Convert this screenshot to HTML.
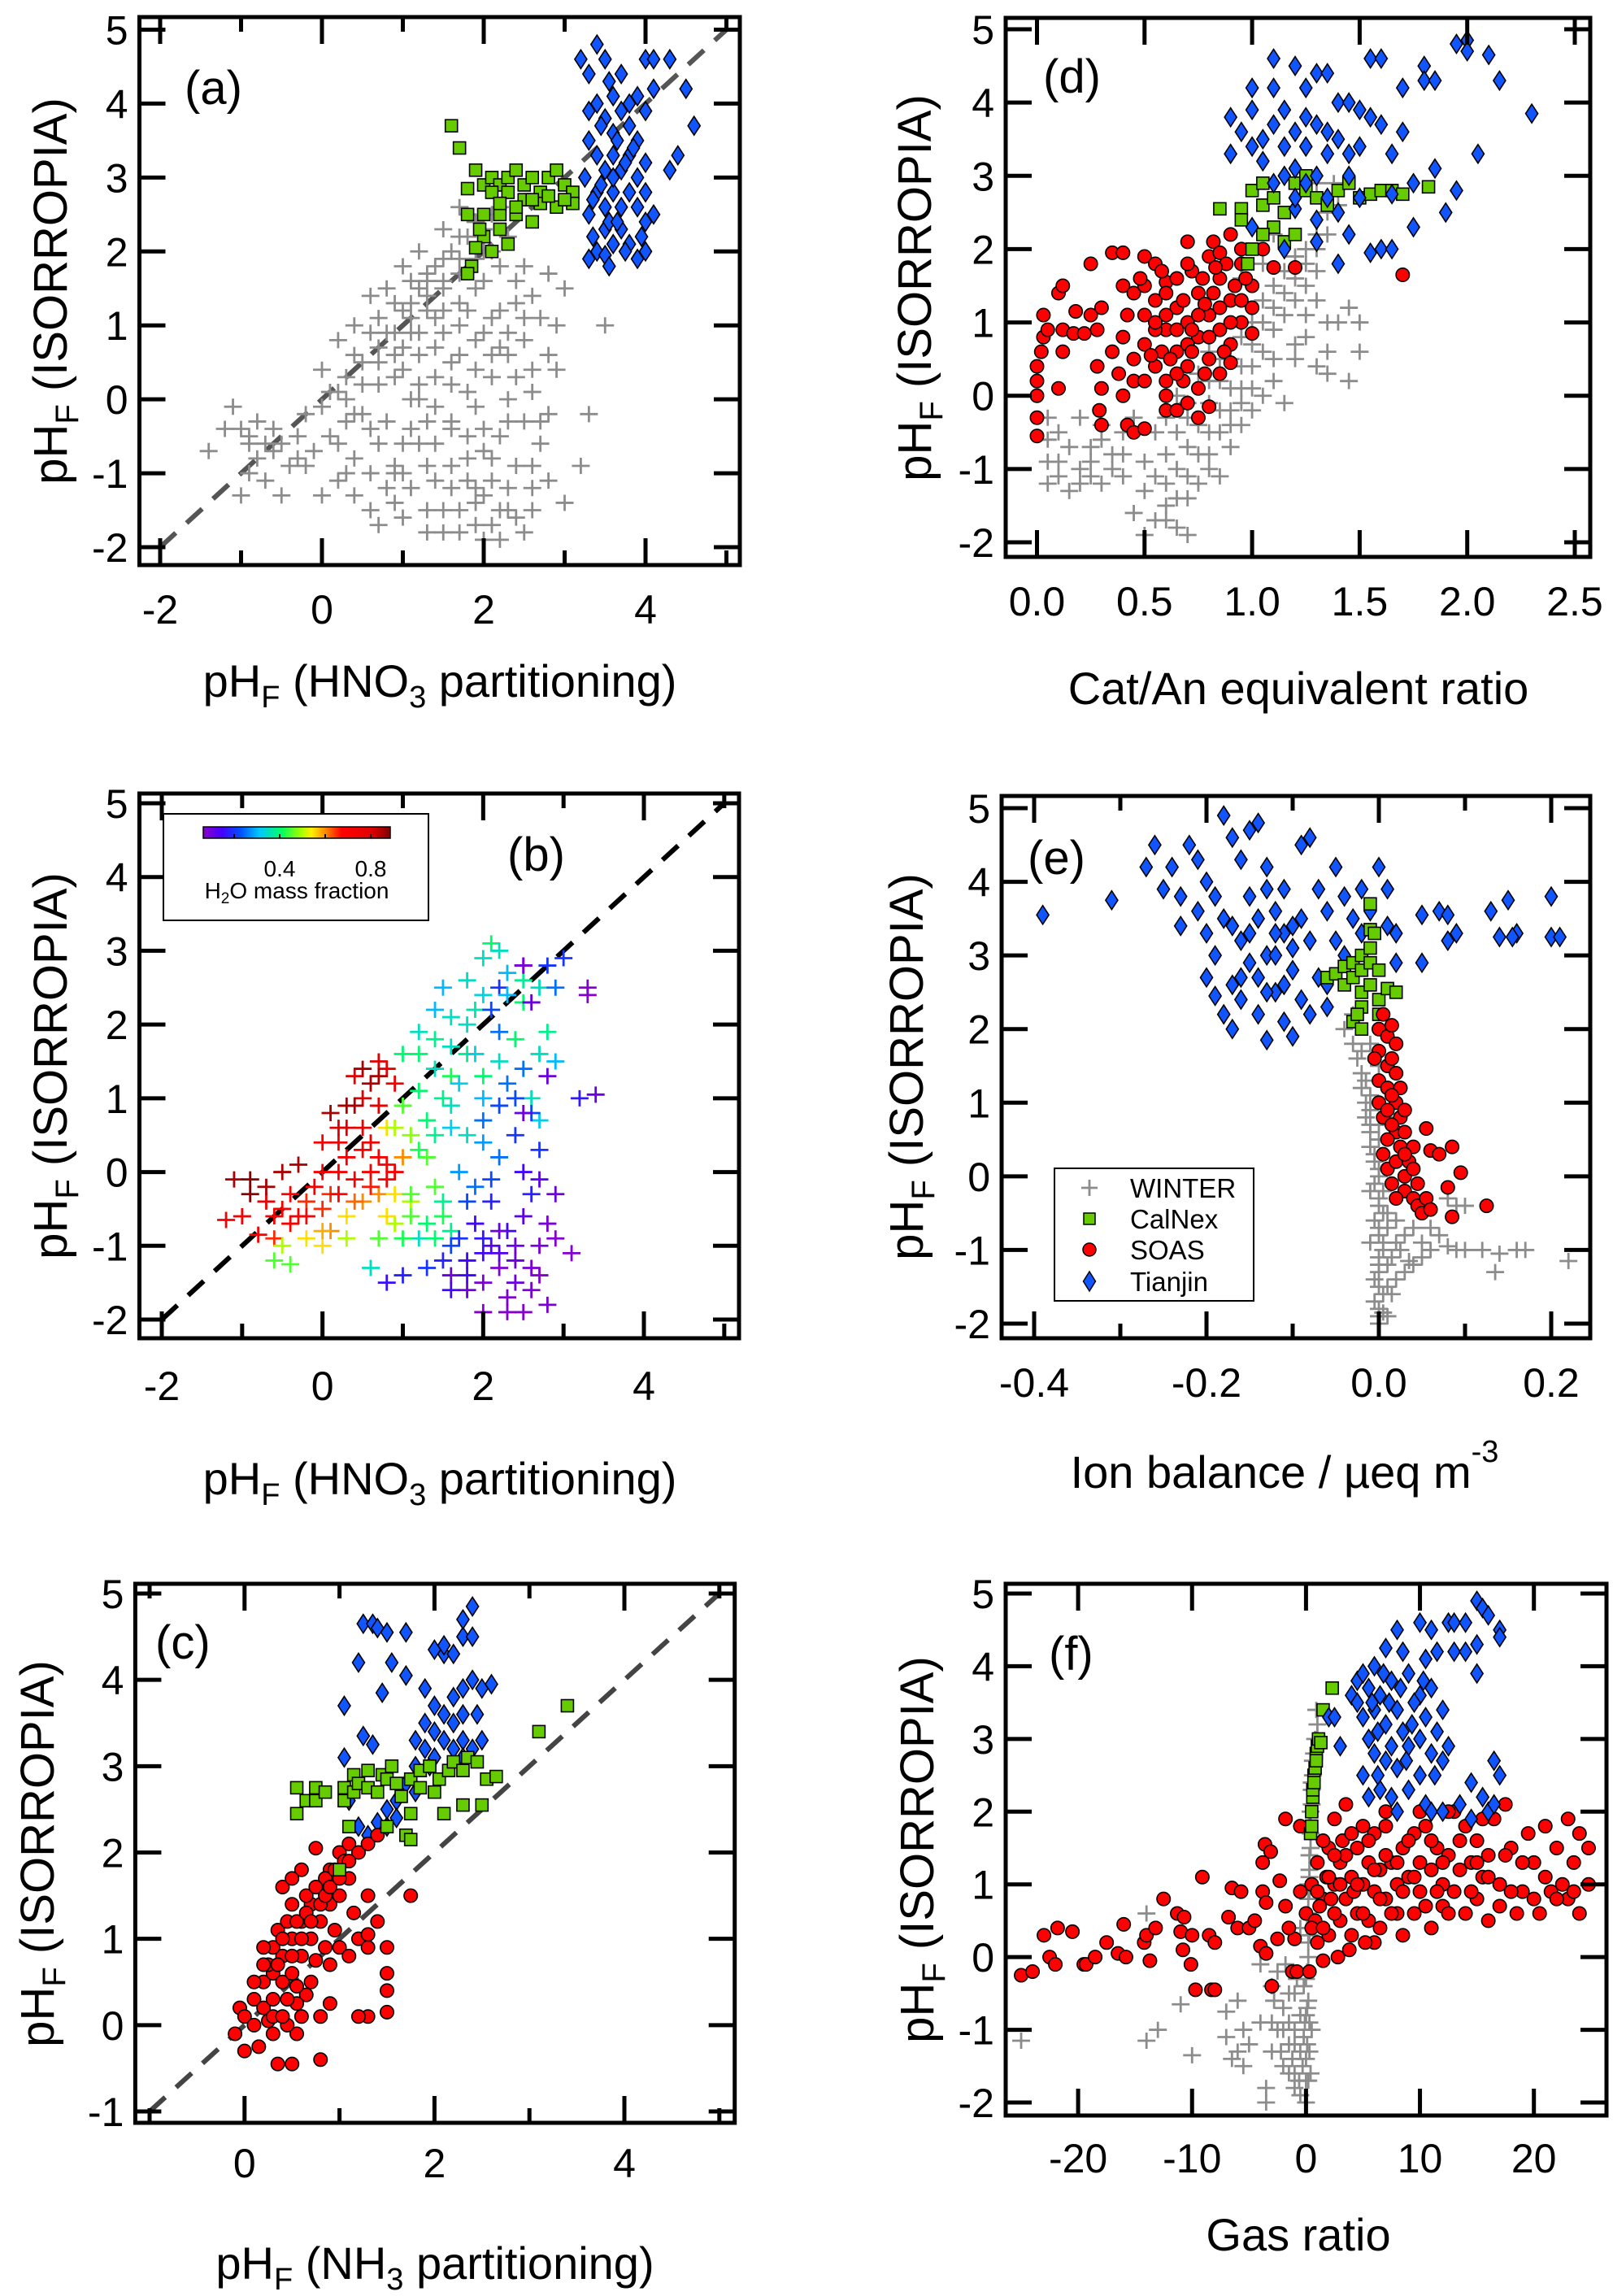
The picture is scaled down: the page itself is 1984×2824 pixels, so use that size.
<!DOCTYPE html>
<html><head><meta charset="utf-8">
<style>
html,body{margin:0;padding:0;background:#fff;}
svg{display:block;font-family:"Liberation Sans",Arial,sans-serif;}
</style></head>
<body>
<svg id="fig" width="1984" height="2824" viewBox="0 0 1984 2824" xmlns="http://www.w3.org/2000/svg">
<defs>
<linearGradient id="cbar" x1="0" x2="1" y1="0" y2="0">
<stop offset="0" stop-color="#8800cc"/><stop offset="0.1" stop-color="#4400ff"/><stop offset="0.2" stop-color="#0050ff"/>
<stop offset="0.3" stop-color="#00c8ff"/><stop offset="0.42" stop-color="#00ff60"/><stop offset="0.52" stop-color="#a0ff00"/>
<stop offset="0.58" stop-color="#ffee00"/><stop offset="0.66" stop-color="#ff8000"/><stop offset="0.74" stop-color="#ff0000"/>
<stop offset="0.9" stop-color="#e00000"/><stop offset="1" stop-color="#800000"/>
</linearGradient>
</defs>
<rect width="1984" height="2824" fill="#fff"/>
<g id="marks"></g>
<g id="static" font-size="56" fill="#000">
<text x="541" y="857" text-anchor="middle">pH<tspan font-size="38" dy="13">F</tspan><tspan dy="-13"> (HNO</tspan><tspan font-size="38" dy="13">3</tspan><tspan dy="-13"> partitioning)</tspan></text>
<text x="541" y="1838" text-anchor="middle">pH<tspan font-size="38" dy="13">F</tspan><tspan dy="-13"> (HNO</tspan><tspan font-size="38" dy="13">3</tspan><tspan dy="-13"> partitioning)</tspan></text>
<text x="535" y="2803" text-anchor="middle">pH<tspan font-size="38" dy="13">F</tspan><tspan dy="-13"> (NH</tspan><tspan font-size="38" dy="13">3</tspan><tspan dy="-13"> partitioning)</tspan></text>
<text x="1597" y="866" text-anchor="middle">Cat/An equivalent ratio</text>
<text x="1580" y="1830" text-anchor="middle">Ion balance / µeq m<tspan font-size="38" dy="-32">-3</tspan></text>
<text x="1597" y="2768" text-anchor="middle">Gas ratio</text>

<g font-size="58">
<text transform="translate(82,358) rotate(-90)" text-anchor="middle">pH<tspan font-size="40" dy="14">F</tspan><tspan dy="-14"> (ISORROPIA)</tspan></text>
<text transform="translate(82,1311) rotate(-90)" text-anchor="middle">pH<tspan font-size="40" dy="14">F</tspan><tspan dy="-14"> (ISORROPIA)</tspan></text>
<text transform="translate(66,2280) rotate(-90)" text-anchor="middle">pH<tspan font-size="40" dy="14">F</tspan><tspan dy="-14"> (ISORROPIA)</tspan></text>
<text transform="translate(1145,354) rotate(-90)" text-anchor="middle">pH<tspan font-size="40" dy="14">F</tspan><tspan dy="-14"> (ISORROPIA)</tspan></text>
<text transform="translate(1135,1312) rotate(-90)" text-anchor="middle">pH<tspan font-size="40" dy="14">F</tspan><tspan dy="-14"> (ISORROPIA)</tspan></text>
<text transform="translate(1148,2275) rotate(-90)" text-anchor="middle">pH<tspan font-size="40" dy="14">F</tspan><tspan dy="-14"> (ISORROPIA)</tspan></text>
</g>

<g font-size="58">
<text x="227" y="128">(a)</text>
<text x="624" y="1071">(b)</text>
<text x="191" y="2040">(c)</text>
<text x="1283" y="114">(d)</text>
<text x="1264" y="1075">(e)</text>
<text x="1290" y="2054">(f)</text>
</g>

<g>
<rect x="201" y="1001" width="326" height="131" fill="#fff" stroke="#000" stroke-width="2"/>
<rect x="250" y="1017" width="230" height="14" fill="url(#cbar)" stroke="#000" stroke-width="1.5"/>
<path d="M288 1031v-5M344 1031v-5M400 1031v-5M456 1031v-5" stroke="#000" stroke-width="2"/>
<text x="344" y="1078" font-size="28" text-anchor="middle">0.4</text>
<text x="456" y="1078" font-size="28" text-anchor="middle">0.8</text>
<text x="365" y="1105" font-size="28" text-anchor="middle">H<tspan font-size="19" dy="6">2</tspan><tspan dy="-6">O mass fraction</tspan></text>
</g>

<g font-size="33">
<rect x="1297" y="1437" width="245" height="163" fill="#fff" stroke="#000" stroke-width="2"/>
<g><path d="M1330 1461h20M1340 1451v20" stroke="#8c8c8c" stroke-width="2.8"/><text x="1390" y="1473">WINTER</text></g>
<g><rect x="1333" y="1492" width="14" height="14" fill="#66cc00" stroke="#000" stroke-width="1.5"/><text x="1390" y="1511">CalNex</text></g>
<g><circle cx="1340" cy="1537" r="8" fill="#ff0000" stroke="#000" stroke-width="1.5"/><text x="1390" y="1549">SOAS</text></g>
<g><path d="M1340 1564l7.5 12-7.5 12-7.5-12z" fill="#1155ff" stroke="#000" stroke-width="1.5"/><text x="1390" y="1588">Tianjin</text></g>
</g>
</g>
</svg>
<script>
// ---------- data ----------
const aWinter=[[-1.1,-0.1],[-1.0,-0.4],[-0.8,-0.3],[-0.6,-0.4],[-0.5,-0.6],[-0.3,-0.5],[-0.2,-0.2],[0,-0.1],[0.1,0.1],[-0.4,-0.9],[-1.4,-0.7],[-0.8,-0.8],[-1.0,-1.3],[-0.5,-1.3],[-0.2,-0.9],[0.2,-0.6],[0.4,-0.8],[0.2,-1.1],[0.6,-1.0],[0.9,-1.4],[0.6,-1.5],[1.0,-1.6],[0.0,0.4],[0.2,0.8],[0.4,1.0],[0.5,0.5],[0.3,0.3],[0.6,1.4],[0.8,1.5],[1.0,1.8],[1.2,2.0],[1.5,2.3],[1.8,2.5],[1.0,1.2],[0.8,0.9],[1.2,1.5],[1.4,1.8],[1.6,2.0],[1.8,2.2],[2.0,2.3],[2.2,2.6],[0.7,0.2],[0.9,0.6],[1.1,0.9],[1.3,1.2],[1.5,1.5],[1.7,1.7],[1.9,1.9],[2.1,2.0],[2.3,2.2],[2.5,1.8],[2.6,1.4],[2.8,1.7],[3.0,1.5],[2.7,1.1],[2.4,1.3],[2.5,0.8],[2.6,0.4],[2.3,0.0],[2.5,-0.3],[2.7,-0.6],[2.4,-0.9],[2.6,-1.2],[2.3,-1.5],[2.5,-1.8],[2.1,-1.7],[1.9,-1.4],[1.6,-1.2],[1.3,-0.9],[1.0,-0.6],[0.8,-0.3],[1.1,0.0],[1.4,0.3],[1.7,0.6],[2.0,0.9],[2.2,1.2],[2.0,1.6],[1.8,1.2],[1.5,0.9],[1.2,0.6],[0.9,0.3],[0.6,-0.4],[1.6,-0.4],[1.9,-0.1],[2.1,0.3],[1.3,-0.3],[1.8,-0.8],[2.1,-1.1],[1.5,-1.5],[3.5,1.0],[3.3,-0.2],[3.2,-0.9],[3.0,-1.4],[2.9,0.4],[2.8,-0.2],[2.0,-1.9],[1.2,0.0],[0.3,-0.3],[1.7,2.6],[1.4,1.1],[1.6,0.2],[2.2,-0.5],[1.1,1.6],[0.7,1.1],[1.3,1.7],[1.7,1.3],[2.2,0.7],[1.9,0.4],[1.4,-0.6],[2.0,-0.4],[2.3,-1.2],[1.7,-1.8],[0.9,-1.0],[0.4,-0.2],[-0.7,-0.6],[-0.9,-0.5]];
const aWinterCore=[[0.3,0.0],[0.5,0.2],[0.7,0.5],[0.9,0.9],[1.1,1.3],[1.3,1.6],[1.5,1.9],[1.7,2.2],[1.9,2.4],[2.1,2.5],[0.5,-0.2],[0.7,-0.6],[0.9,-0.9],[1.1,-1.2],[1.3,-1.5],[1.5,-1.8],[1.7,-1.5],[1.9,-1.2],[2.1,-0.8],[2.3,-0.3],[2.4,0.3],[2.3,0.6],[2.1,1.1],[1.9,1.5],[1.7,1.9],[1.5,1.6],[1.3,1.4],[1.1,1.1],[0.9,1.3],[0.7,0.7],[1.0,0.4],[1.2,0.2],[1.4,-0.1],[1.6,-0.3],[1.8,-0.5],[2.0,-0.7],[1.8,0.1],[1.6,0.5],[1.4,0.7],[1.2,0.9],[1.0,0.7],[1.5,1.2],[1.7,1.0],[1.9,0.8],[2.1,0.6],[2.3,0.9],[2.5,1.1],[2.4,1.6],[2.2,1.8],[2.0,2.0],[1.2,-0.6],[1.0,-1.0],[0.8,-1.2],[1.4,-1.1],[1.6,-0.9],[1.8,-1.1],[2.0,-1.3],[2.2,-1.5],[2.4,-1.6],[2.6,-1.5],[2.2,-1.9],[1.9,-1.7],[2.6,-0.9],[2.8,-1.1],[2.7,-0.3],[2.6,0.1],[2.8,0.6],[2.9,1.0],[0.1,-0.5],[-0.1,-0.7],[-0.3,-0.8],[-0.6,-0.7],[-0.9,-0.6],[-1.2,-0.4],[-0.9,-1.0],[-0.7,-1.1],[0.4,-1.3],[0.3,-1.0],[0.0,-1.3],[0.7,-1.7],[1.3,-1.8],[1.1,-0.4],[0.6,0.9],[0.4,0.6],[0.2,0.1]];
const aCalnex=[[1.6,3.7],[1.7,3.4],[1.9,3.1],[2.0,2.9],[2.1,3.0],[2.2,2.9],[2.3,3.0],[2.4,3.1],[2.5,2.9],[2.6,3.0],[2.7,2.8],[2.8,3.0],[2.9,3.1],[3.0,2.9],[3.1,2.8],[3.1,2.65],[2.9,2.6],[2.7,2.65],[2.5,2.7],[2.3,2.8],[2.1,2.8],[1.8,2.85],[1.8,2.5],[2.0,2.5],[2.2,2.5],[2.4,2.5],[2.6,2.4],[2.2,2.3],[2.0,2.2],[2.1,2.0],[1.9,2.05],[2.3,2.1],[1.85,1.8],[1.8,1.7],[2.4,2.6],[2.6,2.7],[2.8,2.75],[3.0,2.7],[2.2,2.65],[1.95,2.3]];
const aTianjin=[[3.2,4.6],[3.3,4.4],[3.4,4.8],[3.5,4.6],[3.55,4.3],[3.7,4.4],[3.6,4.1],[3.4,4.0],[3.3,3.9],[3.5,3.8],[3.6,3.6],[3.7,3.9],[3.8,3.7],[3.9,3.5],[4.0,3.9],[4.1,4.2],[3.9,4.1],[4.0,4.6],[4.1,4.6],[4.3,4.6],[4.5,4.2],[4.6,3.7],[4.4,3.3],[4.3,3.1],[3.3,3.5],[3.4,3.3],[3.5,3.1],[3.6,3.3],[3.7,3.1],[3.8,3.3],[3.9,3.0],[4.0,3.2],[4.0,2.8],[3.9,2.6],[4.0,2.4],[4.1,2.5],[3.8,2.8],[3.7,2.6],[3.6,2.8],[3.5,2.6],[3.4,2.8],[3.3,2.5],[3.35,2.2],[3.5,2.3],[3.6,2.1],[3.7,2.3],[3.8,2.1],[3.4,2.0],[3.3,1.9],[3.5,1.95],[3.55,1.8],[3.75,2.0],[3.9,1.9],[4.0,2.0],[3.45,2.9],[3.65,3.5],[3.85,3.4],[3.25,3.0],[3.45,3.7],[3.75,3.2],[3.55,2.4],[3.95,2.2],[3.35,2.7],[3.65,2.4],[3.8,4.0],[3.6,3.0]];

const bWinter=[[-1.1,-0.1,.85],[-0.9,-0.3,.9],[-0.7,-0.4,.75],[-0.5,-0.5,.7],[-0.4,-0.3,.7],[-0.3,-0.6,.7],[-0.2,-0.4,.65],[-0.1,-0.2,.7],[0.0,0.0,.7],[0.1,-0.3,.65],[0.2,0.0,.7],[-1.2,-0.65,.7],[-1.0,-0.6,.7],[-0.8,-0.85,.68],[-0.6,-0.9,.65],[-0.5,-1.0,.5],[-0.6,-1.2,.45],[-0.4,-1.25,.45],[-0.2,-0.9,.55],[0.0,-1.0,.55],[0.1,-0.8,.6],[0.3,-0.6,.55],[0.5,-0.4,.6],[0.4,-0.1,.7],[0.6,0.0,.7],[0.7,0.2,.7],[0.8,0.1,.68],[0.9,0.0,.7],[0.7,-0.3,.6],[0.9,-0.3,.55],[0.2,0.4,.72],[0.3,0.6,.8],[0.0,0.4,.7],[0.1,0.8,.85],[0.3,0.9,.85],[0.5,1.0,.8],[0.4,1.3,.8],[0.6,1.2,.85],[0.7,1.5,.8],[0.8,1.4,.75],[0.5,0.3,.72],[0.8,0.6,.55],[1.0,0.2,.6],[1.1,-0.4,.5],[-0.3,0.1,.85],[-0.5,0.0,.85],
[1.0,1.6,.4],[1.2,1.9,.35],[1.4,2.2,.3],[1.6,2.1,.35],[1.8,2.6,.35],[2.0,2.9,.35],[2.1,3.1,.4],[2.2,3.0,.35],[2.3,2.7,.3],[2.5,2.6,.38],[2.7,2.5,.35],[2.5,2.3,.4],[2.8,1.9,.38],[2.7,1.6,.35],[2.9,1.5,.3],[2.4,1.8,.4],[2.2,1.5,.35],[2.0,1.3,.4],[1.8,1.6,.38],[1.6,1.3,.42],[1.4,1.4,.35],[1.2,1.1,.4],[1.0,0.9,.45],[1.3,0.7,.4],[1.6,0.9,.35],[1.8,0.5,.35],[2.0,1.0,.3],[1.1,0.5,.48],[1.3,0.2,.45],[0.9,0.6,.5],[1.3,-0.7,.4],[1.5,-0.6,.42],[1.6,-0.8,.38],[1.2,-0.9,.35],[0.9,-0.7,.5],[0.6,-1.3,.35],[0.7,-0.9,.45],[1.1,-0.3,.45],[1.4,-0.2,.45],[2.7,0.7,.32],[2.6,1.0,.35],[1.5,2.5,.3],[1.9,2.2,.36],
[2.2,2.5,.2],[2.5,2.8,.15],[2.8,2.8,.2],[3.0,2.9,.2],[2.9,2.5,.25],[2.1,2.2,.22],[2.2,1.9,.25],[2.3,1.2,.25],[2.5,1.4,.25],[2.6,0.8,.22],[2.4,0.5,.2],[2.2,0.2,.25],[2.0,0.4,.28],[1.9,-0.2,.25],[1.7,0.0,.28],[2.1,-0.4,.18],[1.9,-0.7,.15],[1.7,-0.9,.2],[1.5,-1.2,.18],[1.3,-1.3,.2],[1.0,-1.4,.18],[0.8,-1.5,.16],[1.6,-1.0,.22],[2.0,-1.1,.15],[1.8,-1.4,.15],[2.5,0.0,.15],[2.7,0.3,.2],[3.2,1.0,.17],[2.6,-0.3,.18],[2.3,-0.8,.15],
[2.0,-1.9,.07],[2.3,-1.7,.08],[2.5,-1.9,.07],[2.8,-1.8,.08],[2.4,-1.5,.1],[2.6,-1.3,.08],[2.2,-1.3,.07],[2.0,-1.5,.08],[1.8,-1.6,.1],[2.7,-1.0,.08],[2.9,-0.9,.07],[3.1,-1.1,.07],[2.8,-0.7,.08],[2.4,-1.0,.1],[2.2,-0.8,.1],[2.9,-0.3,.1],[2.7,-0.1,.12],[2.5,0.8,.1],[2.8,1.3,.1],[3.3,2.5,.07],[3.3,2.4,.07],[2.5,2.8,.08],[2.6,2.3,.1],[3.4,1.05,.1],[1.6,-1.4,.1],[2.1,-1.0,.12]];
const bWinterCore=[[-0.9,-0.1,.9],[-0.7,-0.2,.85],[-0.6,-0.6,.7],[-0.4,-0.7,.7],[-0.2,-0.6,.68],[0.0,-0.5,.65],[0.2,-0.3,.68],[0.4,-0.4,.62],[0.6,-0.2,.66],[0.8,-0.1,.7],[0.5,0.6,.75],[0.6,0.4,.72],[0.7,0.9,.78],[0.4,0.9,.85],[0.2,0.6,.8],[0.9,1.2,.72],[0.7,1.3,.85],[0.5,1.4,.85],[0.3,0.2,.72],[0.8,-0.6,.55],[0.3,-0.9,.5],[0.0,-0.8,.58],
[1.2,1.6,.4],[1.4,1.8,.38],[1.6,1.7,.35],[1.8,2.0,.35],[2.0,2.4,.33],[2.3,2.4,.3],[1.5,1.0,.38],[1.7,1.2,.32],[1.9,1.6,.33],[1.2,0.3,.42],[1.4,0.5,.38],[1.6,0.6,.32],[1.1,-0.6,.45],[1.4,-0.9,.4],[1.0,-0.9,.42],[1.5,-0.4,.38],
[2.0,0.7,.25],[2.2,0.9,.22],[2.4,1.0,.22],[2.1,-0.1,.22],[1.8,-0.4,.22],[2.0,-0.9,.17],[1.8,-1.2,.15],[1.6,-1.6,.15],[2.2,-1.1,.13],[2.4,-1.2,.1],[2.6,-1.6,.08],[2.3,-1.9,.07],[2.7,-1.4,.07],[2.5,-0.6,.12]];

const cSoas=[[-0.1,-0.1],[-0.05,0.2],[0.0,0.1],[0.1,0.3],[0.1,0.0],[0.2,0.5],[0.2,0.2],[0.3,0.6],[0.3,0.3],[0.4,0.8],[0.4,0.5],[0.5,1.0],[0.5,0.6],[0.6,1.2],[0.6,0.8],[0.7,1.4],[0.7,1.0],[0.8,1.6],[0.8,1.2],[0.9,1.8],[0.9,1.4],[1.0,2.0],[1.0,1.5],[1.1,2.1],[1.1,1.7],[1.2,2.0],[1.3,2.1],[1.4,2.2],[0.4,1.6],[0.5,1.4],[0.6,1.8],[0.75,2.05],[0.3,0.9],[0.2,0.9],[0.0,-0.3],[0.15,-0.25],[0.35,-0.45],[0.5,-0.45],[0.55,-0.1],[0.8,-0.4],[0.45,0.0],[0.6,0.1],[0.8,0.1],[0.9,0.25],[0.7,0.5],[0.9,0.7],[1.0,0.9],[1.1,0.8],[1.2,1.0],[1.3,0.9],[1.3,1.5],[1.4,1.2],[1.5,0.9],[1.5,0.6],[1.5,0.4],[1.5,0.15],[1.3,0.1],[1.2,0.1],[1.75,1.5],[1.3,1.05],[0.25,0.05],[0.65,0.35],[0.85,0.9],[0.35,1.1],[0.55,0.25],[1.15,1.3],[0.95,1.1],[0.45,1.2],[0.65,1.5],[0.85,1.7],[0.25,0.7],[0.55,0.45],[0.75,0.75],
[0.1,0.5],[0.2,0.7],[0.3,0.1],[0.35,0.7],[0.4,1.0],[0.45,0.3],[0.5,0.8],[0.55,1.2],[0.6,1.0],[0.65,1.3],[0.7,1.2],[0.75,1.6],[0.8,1.4],[0.85,1.5],[0.9,1.6],[0.95,1.8],[1.0,1.7],[1.05,1.9],[1.1,1.9],[0.5,1.7],[0.4,0.1],[0.3,-0.1]];
const cCalnex=[[0.55,2.75],[0.55,2.45],[0.65,2.6],[0.75,2.75],[0.75,2.6],[0.85,2.7],[1.05,2.75],[1.05,2.6],[1.15,2.9],[1.15,2.7],[1.2,2.8],[1.3,2.75],[1.4,2.7],[1.45,2.9],[1.5,2.85],[1.55,3.0],[1.6,2.8],[1.65,2.65],[1.75,2.85],[1.85,2.95],[1.95,3.0],[2.05,2.85],[2.0,2.7],[2.15,2.95],[2.2,3.05],[2.3,2.95],[2.35,3.1],[2.45,3.05],[2.55,2.85],[2.65,2.88],[2.1,2.45],[2.3,2.55],[2.5,2.55],[1.75,2.45],[1.5,2.3],[1.7,2.2],[1.75,2.15],[1.1,2.3],[1.0,1.8],[3.1,3.4],[3.4,3.7],[1.3,2.95],[1.85,2.75]];
const cTianjin=[[1.2,2.3],[1.3,2.2],[1.4,2.35],[1.5,2.3],[1.5,2.5],[1.6,2.6],[1.7,2.8],[1.8,3.0],[1.9,3.2],[1.9,3.5],[2.0,3.4],[2.0,3.7],[2.1,3.6],[2.1,3.3],[2.2,3.8],[2.2,3.5],[2.3,3.9],[2.3,3.3],[2.4,4.0],[2.5,3.9],[2.6,3.95],[2.4,3.2],[2.5,3.3],[2.3,3.6],[2.1,4.3],[2.2,4.3],[2.3,4.5],[2.3,4.7],[2.4,4.5],[2.4,4.85],[2.0,4.35],[2.1,4.4],[1.25,4.65],[1.35,4.65],[1.4,4.6],[1.5,4.55],[1.7,4.55],[1.2,4.2],[1.55,4.2],[1.7,4.05],[1.45,3.85],[1.05,3.7],[1.25,3.35],[1.35,3.25],[1.05,3.1],[1.9,3.9],[1.8,3.3],[1.1,2.6],[2.3,3.1],[1.95,3.0],[1.6,2.4],[1.8,2.7],[2.0,3.1],[2.2,3.2],[2.45,3.6]];

const dWinter=[[0.05,-0.6],[0.1,-0.9],[0.05,-1.2],[0.15,-1.3],[0.2,-1.0],[0.25,-0.7],[0.3,-0.4],[0.2,-0.3],[0.35,-0.8],[0.4,-0.5],[0.45,-0.3],[0.4,-1.1],[0.3,-1.2],[0.5,-0.9],[0.55,-0.5],[0.5,-1.3],[0.45,-1.6],[0.5,-1.9],[0.55,-1.7],[0.6,-1.5],[0.65,-1.8],[0.7,-1.9],[0.6,-1.2],[0.65,-1.0],[0.7,-0.7],[0.75,-0.4],[0.8,-0.1],[0.85,0.2],[0.9,0.5],[0.95,0.8],[1.0,1.0],[1.05,1.3],[1.1,1.5],[1.15,1.7],[1.2,1.9],[1.25,2.0],[1.3,2.2],[1.35,2.5],[1.3,2.9],[0.75,-1.2],[0.8,-0.8],[0.85,-0.5],[0.9,-0.2],[0.95,0.1],[1.0,0.4],[1.05,0.6],[1.1,0.9],[1.15,1.1],[1.2,1.3],[1.25,1.5],[1.3,1.7],[0.7,-0.1],[0.75,0.3],[0.8,0.6],[1.4,1.0],[1.35,0.6],[1.5,1.0],[1.35,0.3],[1.3,0.4],[1.1,0.2],[1.15,-0.1],[1.0,-0.2],[0.9,-0.7],[0.85,-1.1],[0.6,-0.3],[0.65,0.0],[0.05,-0.3],[0.1,-0.5],[0.95,1.6],[1.05,1.8],[1.1,2.2],[0.15,-0.7],[0.25,-1.1],[0.7,-1.4],[0.8,-1.0],[0.95,-0.4],[1.05,0.0],[1.2,0.7],[1.25,1.1]];
const dWinterCore=[[0.05,-0.9],[0.1,-1.1],[0.2,-1.2],[0.25,-0.9],[0.3,-0.6],[0.35,-1.0],[0.4,-0.8],[0.55,-1.1],[0.6,-0.8],[0.65,-0.5],[0.7,-0.3],[0.6,-1.7],[0.65,-1.4],[0.7,-1.1],[0.75,-0.8],[0.8,-0.5],[0.85,-0.2],[0.9,0.1],[0.95,0.4],[1.0,0.7],[1.05,1.0],[1.1,1.2],[1.15,1.4],[1.2,1.6],[1.25,1.8],[1.3,2.0],[1.35,2.2],[1.3,1.3],[1.35,1.0],[1.25,0.8],[1.2,0.5],[1.1,0.5],[1.0,0.1],[0.9,-0.4],[0.95,-0.1],[0.85,0.5],[0.8,0.2],[1.45,1.2],[1.5,0.6],[1.45,0.2],[1.4,2.6],[1.38,2.9]];
const dSoas=[[0.0,-0.55],[0.0,-0.3],[0.0,0.0],[0.0,0.2],[0.0,0.4],[0.02,0.6],[0.03,0.8],[0.03,1.1],[0.05,0.9],[0.1,1.4],[0.12,1.5],[0.12,0.9],[0.12,0.6],[0.1,0.1],[0.17,0.85],[0.18,1.15],[0.22,0.85],[0.25,1.1],[0.25,1.8],[0.28,0.9],[0.3,1.2],[0.28,0.4],[0.3,0.1],[0.29,-0.2],[0.3,-0.4],[0.35,1.95],[0.35,0.6],[0.38,0.3],[0.4,1.95],[0.4,1.5],[0.4,0.8],[0.4,0.0],[0.42,-0.4],[0.45,-0.5],[0.5,-0.45],[0.45,0.2],[0.45,1.4],[0.5,1.9],[0.55,1.8],[0.5,0.7],[0.5,1.1],[0.55,0.4],[0.55,1.3],[0.6,1.55],[0.6,0.9],[0.6,0.2],[0.6,-0.2],[0.65,1.2],[0.65,0.6],[0.65,-0.2],[0.7,2.1],[0.7,1.0],[0.7,0.4],[0.7,-0.1],[0.72,1.7],[0.75,1.4],[0.75,0.8],[0.75,0.1],[0.75,-0.3],[0.8,1.9],[0.8,1.1],[0.8,0.5],[0.8,-0.15],[0.82,2.1],[0.85,1.6],[0.85,0.9],[0.85,0.3],[0.9,2.2],[0.9,1.3],[0.9,0.7],[0.95,1.8],[0.95,1.0],[1.0,1.5],[1.0,1.2],[1.0,0.85],[1.05,2.0],[1.1,1.75],[1.2,1.75],[1.7,1.65],[0.6,1.1],[0.7,0.7],[0.55,0.9],[0.65,1.6],[0.85,1.95],[0.78,1.25],[0.68,0.2],[0.58,0.6],
[0.5,1.5],[0.55,1.0],[0.6,1.4],[0.62,0.5],[0.65,0.9],[0.68,1.3],[0.7,1.8],[0.72,0.6],[0.75,1.1],[0.77,1.6],[0.78,0.3],[0.8,0.8],[0.82,1.4],[0.85,1.2],[0.87,0.6],[0.88,1.8],[0.9,1.0],[0.92,1.5],[0.95,1.3],[0.97,1.6],[0.6,0.0],[0.65,0.3],[0.5,0.2],[0.45,0.5],[0.42,1.1],[0.48,1.6],[0.53,0.55],[0.58,1.7],[0.72,0.9],[0.83,1.75],[0.9,0.45],[0.95,2.0]];
const dCalnex=[[0.85,2.55],[0.95,2.55],[0.95,2.4],[1.0,2.8],[1.0,2.0],[0.98,1.8],[1.05,2.9],[1.05,2.6],[1.1,2.3],[1.1,2.7],[1.15,2.5],[1.2,2.9],[1.25,2.8],[1.3,2.7],[1.35,2.6],[1.4,2.8],[1.45,2.9],[1.5,2.7],[1.55,2.75],[1.6,2.8],[1.65,2.8],[1.7,2.75],[1.82,2.85],[1.15,2.1],[1.05,2.2],[1.2,2.2],[1.25,3.0]];
const dTianjin=[[0.9,3.8],[0.9,3.3],[0.95,3.6],[1.0,3.9],[1.0,4.2],[1.05,3.5],[1.05,3.2],[1.1,4.2],[1.1,3.7],[1.1,4.6],[1.15,3.4],[1.15,3.9],[1.2,3.1],[1.2,3.6],[1.2,4.5],[1.25,2.9],[1.25,3.4],[1.25,4.2],[1.3,4.4],[1.3,3.7],[1.3,3.0],[1.35,4.4],[1.35,3.3],[1.35,2.7],[1.4,4.0],[1.4,3.5],[1.4,2.5],[1.45,4.0],[1.45,3.0],[1.45,2.2],[1.5,3.9],[1.5,3.4],[1.5,2.7],[1.55,3.8],[1.55,4.6],[1.6,4.6],[1.6,3.7],[1.6,2.0],[1.65,3.3],[1.65,2.0],[1.7,4.2],[1.7,3.6],[1.75,2.9],[1.8,4.5],[1.8,4.3],[1.85,4.3],[1.85,3.1],[1.9,2.5],[1.95,2.8],[1.0,2.3],[1.15,2.0],[1.3,2.1],[1.4,1.8],[1.55,1.95],[1.65,2.75],[1.95,4.8],[2.0,4.85],[2.0,4.7],[2.05,3.3],[2.1,4.65],[2.15,4.3],[2.3,3.85],[1.75,2.3],[1.2,2.55],[1.1,2.9],[1.0,3.4],[1.15,3.0],[1.25,3.8],[1.35,3.6],[1.45,3.3],[1.2,2.7],[1.3,2.4]];

const eWinter=[[0.0,-2.0],[0.0,-1.8],[0.005,-1.6],[-0.005,-1.4],[0.0,-1.2],[0.005,-1.0],[0.0,-0.8],[-0.005,-0.6],[0.0,-0.4],[0.005,-0.2],[0.0,0.0],[-0.005,0.2],[-0.01,0.4],[-0.01,0.6],[-0.015,0.8],[-0.015,1.0],[-0.02,1.2],[-0.02,1.4],[-0.025,1.6],[-0.03,1.8],[-0.04,2.0],[-0.03,2.2],[0.01,-1.9],[0.01,-1.5],[0.015,-1.1],[0.02,-0.9],[0.03,-0.8],[0.04,-0.7],[0.05,-0.9],[0.06,-0.7],[0.07,-0.8],[0.08,-0.95],[0.06,-1.0],[0.05,-1.1],[0.04,-1.2],[0.03,-1.3],[0.02,-1.4],[0.09,-1.0],[0.1,-1.0],[0.12,-1.0],[0.14,-1.05],[0.135,-1.3],[0.16,-1.0],[0.17,-1.0],[0.22,-1.15],[0.08,-0.3],[0.09,-0.4],[0.1,-0.4],[0.035,-1.15],[-0.01,-0.9],[-0.005,-1.7],[0.01,0.8],[-0.01,1.8],[0.0,1.5],[0.0,-1.5],[0.005,-0.5],[0.0,0.5],[-0.01,1.1],[0.01,-0.7],[0.0,-1.9],
[0.0,-1.3],[0.0,-1.1],[0.0,-0.7],[0.0,-0.3],[0.0,0.1],[-0.005,0.3],[-0.01,0.7],[-0.01,0.9],[-0.015,1.3],[-0.02,1.7],[-0.005,-0.1],[0.005,-0.9],[0.01,-1.2],[0.01,-0.5],[0.02,-0.6],[0.025,-1.0],[0.015,-1.6],[0.005,-1.85],[-0.01,-0.2],[0.0,0.7]];
const eCalnex=[[-0.06,2.7],[-0.05,2.75],[-0.04,2.6],[-0.04,2.85],[-0.03,2.9],[-0.03,2.7],[-0.02,3.0],[-0.02,2.8],[-0.02,2.5],[-0.01,3.1],[-0.01,2.9],[-0.01,2.6],[0.0,2.8],[0.0,2.4],[-0.02,2.3],[-0.03,2.1],[-0.02,2.0],[0.01,2.55],[0.02,2.5],[-0.01,3.35],[-0.01,3.7],[-0.005,3.3],[0.0,2.2],[-0.025,2.2]];
const eSoas=[[0.0,2.0],[0.0,1.7],[0.005,2.2],[0.01,1.9],[0.01,1.5],[0.0,1.3],[0.0,1.0],[0.005,0.8],[0.01,1.2],[0.015,1.6],[0.015,2.05],[0.02,1.4],[0.02,1.0],[0.02,0.6],[0.01,0.5],[0.005,0.3],[0.01,0.1],[0.015,-0.1],[0.02,0.2],[0.025,0.8],[0.025,0.4],[0.03,0.0],[0.03,-0.2],[0.035,0.2],[0.04,-0.3],[0.045,-0.4],[0.05,-0.5],[0.055,-0.3],[0.06,-0.45],[0.03,0.9],[0.025,1.2],[0.03,0.6],[-0.005,1.6],[0.055,0.65],[0.06,0.35],[0.07,0.3],[0.085,0.4],[0.095,0.05],[0.08,-0.15],[0.085,-0.55],[0.125,-0.4],[0.04,0.4],[0.02,-0.3],[0.015,0.7],[0.01,0.9],[0.015,1.1],[0.02,1.8],[0.03,0.3],[0.04,0.1],[0.045,-0.1]];
const eTianjin=[[-0.39,3.55],[-0.31,3.75],[-0.27,4.2],[-0.26,4.5],[-0.25,3.9],[-0.24,4.2],[-0.23,3.8],[-0.22,4.5],[-0.21,4.3],[-0.2,4.0],[-0.2,3.3],[-0.2,2.7],[-0.19,3.8],[-0.19,3.0],[-0.18,4.9],[-0.18,2.2],[-0.18,3.5],[-0.17,4.6],[-0.17,2.0],[-0.17,2.6],[-0.16,4.3],[-0.16,3.2],[-0.16,2.4],[-0.15,4.7],[-0.15,3.8],[-0.15,2.9],[-0.14,4.8],[-0.14,2.2],[-0.14,3.5],[-0.13,4.2],[-0.13,3.0],[-0.13,1.85],[-0.12,3.6],[-0.12,2.5],[-0.11,3.9],[-0.11,2.1],[-0.11,3.3],[-0.10,2.8],[-0.10,1.9],[-0.09,4.5],[-0.09,3.5],[-0.09,2.4],[-0.08,4.6],[-0.08,3.2],[-0.08,2.2],[-0.07,3.9],[-0.07,2.7],[-0.06,3.6],[-0.06,2.3],[-0.05,3.2],[-0.05,4.2],[-0.04,3.8],[-0.04,3.0],[-0.03,3.5],[-0.02,3.9],[-0.02,3.3],[-0.06,2.6],[-0.01,3.6],[0.0,4.2],[0.01,3.4],[0.01,3.9],[0.02,2.9],[0.02,3.3],[0.05,2.9],[0.05,3.55],[0.07,3.6],[0.08,3.55],[0.08,3.2],[0.09,3.3],[0.13,3.6],[0.14,3.25],[0.15,3.75],[0.16,3.3],[0.2,3.8],[0.2,3.25],[0.21,3.25],[0.155,3.25],[-0.21,3.6],[-0.12,3.0],[-0.14,2.7],[-0.1,3.4],[-0.17,3.4],[-0.19,2.45],[-0.23,3.4],[-0.13,3.9],[-0.15,3.3],[-0.12,3.3],[-0.1,3.1],[-0.16,2.7],[-0.13,2.5],[-0.11,2.6]];

const fWinter=[[0.0,-2.0],[-0.5,-1.9],[-1,-1.8],[0.2,-1.7],[-0.3,-1.5],[0.3,-1.3],[-0.2,-1.1],[0.3,-0.9],[0.2,-0.6],[-0.2,-0.4],[0.1,-0.2],[0.2,0.0],[0.3,0.3],[0.2,0.6],[0.3,0.9],[0.3,1.2],[0.4,1.5],[0.3,1.8],[0.5,2.1],[0.5,2.4],[0.6,2.7],[0.8,3.0],[1.0,3.2],[0.9,3.4],[-1,-1.2],[-1.5,-0.9],[-2,-0.7],[-2.5,-1.0],[-3,-1.3],[-3.5,-1.8],[-3.5,-2.0],[-2,-1.5],[-1.5,-1.6],[-4,-0.9],[-5,-1.2],[-5.5,-1.0],[-6,-1.3],[-7,-1.1],[-6.5,-1.4],[-5.5,-1.5],[-25,-1.15],[-14,-1.15],[-13,-1.0],[-11,-0.65],[-10,-1.35],[-7,-0.75],[-6,-0.6],[-14,0.6],[-4,-0.1],[-3,-0.4],[-2.5,-0.2],[-1.8,-0.1],[-1.0,-0.5],[-0.5,0.4],[-0.5,-0.8],[0.5,-1.0],[0.4,-1.6],[0.0,-1.4],[0.0,-0.8],[0.1,0.4],[0.2,1.0],[-1.2,-1.4],[-2.8,-0.6],
[0.0,-1.7],[0.1,-1.2],[-0.1,-0.9],[0.1,-0.7],[0.0,-0.3],[0.2,0.2],[0.2,0.8],[0.3,1.1],[0.3,1.4],[0.4,1.7],[0.4,2.0],[0.5,2.3],[0.6,2.5],[0.7,2.8],[-0.5,-1.3],[-1.0,-1.0],[-1.5,-1.2],[-2.0,-1.0],[-1.0,-1.6],[-0.6,-1.7],[-3,-0.9],[-2.2,-1.3],[-0.8,-0.3],[-1.5,-0.5]];
const fCalnex=[[0.4,1.7],[0.5,1.8],[0.5,2.0],[0.6,2.2],[0.6,2.3],[0.7,2.5],[0.8,2.6],[0.9,2.8],[1.0,2.9],[1.1,3.0],[1.3,2.95],[1.5,3.4],[2.3,3.7],[0.7,2.4],[0.9,2.7]];
const fSoas=[[-25,-0.25],[-24,-0.2],[-23,0.3],[-22.5,0.0],[-22,-0.1],[-21.8,0.4],[-20.5,0.35],[-19.5,-0.1],[-19.3,-0.1],[-18.5,0.0],[-17.5,0.2],[-16.5,0.05],[-16,0.45],[-15.8,0.0],[-14.2,0.2],[-14,0.3],[-13.7,-0.05],[-13.2,0.4],[-12.5,0.8],[-11.3,0.6],[-10.7,0.55],[-11,0.35],[-10.8,0.1],[-10.1,-0.1],[-10,0.3],[-9.7,-0.45],[-9.1,1.1],[-8.5,0.3],[-8.3,-0.45],[-8,0.2],[-8,-0.45],[-6.8,0.55],[-6.5,0.95],[-6,0.4],[-5.7,0.9],[-5,0.4],[-4.5,0.5],[-3.8,0.9],[-4,0.15],[-3.5,0.75],[-3.5,0.05],[-3.8,1.3],[-3.6,1.55],[-3.1,1.45],[-3,-0.4],[-2.5,0.25],[-2.3,1.05],[-1.8,0.7],[-1.8,1.9],[-1.2,-0.2],[-0.5,1.8],[-1,0.25],[-0.8,-0.2],
[0,0.6],[0.5,1.0],[1,0.2],[1,1.3],[1.5,0.8],[2,1.5],[2,0.3],[2.5,1.0],[3,0.5],[3,1.3],[3.5,0.8],[3.5,2.1],[4,0.3],[4,1.1],[4.5,0.6],[4.5,1.5],[5,1.0],[5,1.8],[5.5,0.5],[5.5,1.3],[6,0.9],[6,1.7],[6.5,0.4],[6.5,1.2],[7,0.8],[7,1.8],[7.5,1.3],[8,0.6],[8,1.0],[8.5,1.5],[8.5,0.3],[9,1.1],[9.5,1.7],[9.5,0.6],[10,1.3],[10,0.9],[10.5,1.8],[11,0.4],[11,1.2],[11.5,1.5],[12,0.7],[12,1.0],[12.5,1.4],[13,0.9],[13,2.0],[13.5,1.2],[14,0.6],[14,1.8],[14.5,1.3],[15,0.8],[15,1.6],[15.5,1.1],[16,0.5],[16,1.4],[16.5,1.9],[17,1.0],[17,0.7],[17.5,2.1],[18,1.5],[18.5,0.6],[19,0.9],[19.5,1.7],[20,0.8],[20,1.3],[20.5,0.6],[21,1.8],[21.5,0.9],[22,1.5],[22.5,1.0],[23,1.9],[23,0.8],[23.5,1.3],[24,1.7],[24,0.6],[24.8,1.0],[24.8,1.5],[7,2.0],[10,2.0],[12.5,2.0],[15.5,1.9],[2.5,1.9],[3.8,0.1],[1.5,-0.05],[6,0.2],[2.2,0.8],[0.3,-0.2],[1.2,0.7],[2.8,0.0],[4.2,0.9],[5.2,0.2],[1.8,1.1],[3.2,1.6],[0.8,0.5],
[1,0.9],[1.5,1.6],[2,1.1],[2.5,0.6],[3,1.0],[3.5,1.4],[4,1.7],[4.5,1.0],[5,0.6],[5.5,1.6],[6,1.2],[6.5,0.8],[7,1.4],[7.5,0.6],[8,1.3],[8.5,0.9],[9,1.6],[9.5,1.1],[10.5,0.7],[11,1.6],[11.5,0.9],[12,1.3],[12.5,0.6],[13.5,1.6],[14.5,0.9],[15,1.3],[16,1.1],[17.5,1.4],[18,0.9],[19,1.3],[21,1.1],[22,0.8],[23.5,0.9],[0.5,0.4],[1.5,0.4],[2.5,1.4],[-0.5,0.9],[-1.5,0.4]];
const fTianjin=[[2,3.3],[2.5,3.3],[3,2.9],[4,3.6],[4.5,3.5],[4.5,3.8],[5,3.3],[5,3.9],[5,2.5],[5.5,3.7],[5.5,3.0],[5.5,2.2],[6,3.4],[6,4.0],[6,2.8],[6.5,3.6],[6.5,2.3],[7,4.25],[7,3.2],[7,2.7],[7.5,3.8],[7.5,2.9],[7.5,2.2],[8,4.5],[8,3.4],[8,2.6],[8,2.0],[8.5,4.2],[8.5,3.1],[9,3.9],[9,2.9],[9,2.3],[10,4.6],[10,3.6],[10,3.0],[10,2.5],[10.5,4.1],[10.5,3.3],[10.5,2.1],[11,4.5],[11,3.7],[11,2.8],[11,2.0],[11.5,4.2],[11.5,3.1],[12,2.7],[12,2.0],[12.5,4.6],[12.5,2.9],[13,4.6],[13,4.2],[13.5,2.1],[14,4.6],[14,4.2],[14.5,2.4],[14.5,1.9],[15,4.9],[15,4.3],[15,3.9],[15.5,4.8],[15.5,2.2],[16,4.7],[16,2.0],[16.5,2.7],[16.5,2.1],[17,4.5],[17,4.4],[17,2.5],[9.5,3.5],[8.8,2.7],[12,3.4],[6.8,3.9],[5.8,3.5],[6.3,3.1],[7.3,3.5],[8.3,3.7],[9.3,3.2],[10.3,3.8],[11.3,2.5],[6.3,2.5]];

// tick arrays
const phXTicks=[-2,-1,0,1,2,3,4,5];
const phXLabels=['-2','0','2','4'];
const phXLabelVals=[-2,0,2,4];
const phYTicks=[-2,-1,0,1,2,3,4,5];
const phYLabels=['-2','-1','0','1','2','3','4','5'];
const cXTicks=[-1,0,1,2,3,4,5];
const cXLabels=['0','2','4'];
const cXLabelVals=[0,2,4];
const cYTicks=[-1,0,1,2,3,4,5];
const cYLabels=['-1','0','1','2','3','4','5'];
const dXTicks=[0,0.5,1,1.5,2,2.5];
const dXLabels=['0.0','0.5','1.0','1.5','2.0','2.5'];
const eXTicks=[-0.4,-0.3,-0.2,-0.1,0,0.1,0.2];
const eXLabels=['-0.4','-0.2','0.0','0.2'];
const eXLabelVals=[-0.4,-0.2,0,0.2];
const fXTicks=[-20,-10,0,10,20];
const fXLabels=['-20','-10','0','10','20'];

// ---------- drawing ----------
const NS='http://www.w3.org/2000/svg';
const root=document.getElementById('marks');
function mk(tag,attrs,parent){const e=document.createElementNS(NS,tag);for(const k in attrs)e.setAttribute(k,attrs[k]);parent.appendChild(e);return e;}

const GREY='#8c8c8c',GREEN='#66cc00',RED='#ff0000',BLUE='#1155ff';
const cstops=[[0,[136,0,204]],[0.1,[68,0,255]],[0.2,[0,80,255]],[0.3,[0,200,255]],[0.42,[0,255,96]],[0.52,[160,255,0]],[0.58,[255,238,0]],[0.66,[255,128,0]],[0.74,[255,0,0]],[0.9,[224,0,0]],[1,[128,0,0]]];
function cmap(w){let t=(w-0.064)/(0.886-0.064);t=Math.max(0,Math.min(1,t));for(let i=1;i<cstops.length;i++){if(t<=cstops[i][0]){const a=cstops[i-1],b=cstops[i];const f=(t-a[0])/(b[0]-a[0]);const c=a[1].map((v,j)=>Math.round(v+(b[1][j]-v)*f));return 'rgb('+c.join(',')+')';}}return 'rgb(128,0,0)';}

function panel(cfg){
  const g=mk('g',{},root);
  
  
  const kx=(cfg.xm[3]-cfg.xm[1])/(cfg.xm[2]-cfg.xm[0]);
  const ky=(cfg.ym[3]-cfg.ym[1])/(cfg.ym[2]-cfg.ym[0]);
  const X=v=>cfg.xm[1]+(v-cfg.xm[0])*kx;
  const Y=v=>cfg.ym[1]+(v-cfg.ym[0])*ky;
  const cid='clip'+cfg.id;
  const cp=mk('clipPath',{id:cid},g);
  mk('rect',{x:cfg.L,y:cfg.T,width:cfg.R-cfg.L,height:cfg.B-cfg.T},cp);
  const plot=mk('g',{'clip-path':'url(#'+cid+')'},g);
  
  
  if(cfg.diag){
    const ln=mk('line',{x1:X(cfg.diag[0]),y1:Y(cfg.diag[0]),x2:X(cfg.diag[1]),y2:Y(cfg.diag[1]),stroke:cfg.diagColor,'stroke-width':6,'stroke-dasharray':'26 18'},plot);
    
    
  }
  cfg.series.forEach(s=>{
    const sg=mk('g',{},plot);
    
    
    s.data.forEach(p=>{
      const x=X(p[0]),y=Y(p[1]);let el;
      if(s.type==='plus'){
        const col=p.length>2?cmap(p[2]):GREY;
        el=mk('path',{d:`M${x-11} ${y}H${x+11}M${x} ${y-10}V${y+10}`,stroke:col,'stroke-width':2.8,fill:'none'},sg);
      }else if(s.type==='square'){
        el=mk('rect',{x:x-7.5,y:y-7.5,width:15,height:15,fill:GREEN,stroke:'#000','stroke-width':1.6},sg);
      }else if(s.type==='circle'){
        el=mk('circle',{cx:x,cy:y,r:8.2,fill:RED,stroke:'#000','stroke-width':1.6},sg);
      }else{
        el=mk('path',{d:`M${x} ${y-11.5}L${x+7.5} ${y}L${x} ${y+11.5}L${x-7.5} ${y}Z`,fill:BLUE,stroke:'#000','stroke-width':1.6},sg);
      }
      
      
    });
  });
  const ax=mk('g',{stroke:'#000','stroke-width':5,fill:'none'},g);
  
  
  const fr=mk('rect',{x:cfg.L,y:cfg.T,width:cfg.R-cfg.L,height:cfg.B-cfg.T},ax);
  
  
  let d='';
  cfg.xt.forEach(v=>{const x=X(v);const major=cfg.xlv.some(u=>Math.abs(u-v)<1e-9);const TL=major?33:18;d+=`M${x} ${cfg.B}V${cfg.B-TL}M${x} ${cfg.T}V${cfg.T+TL}`;});
  cfg.yt.forEach(v=>{const y=Y(v);d+=`M${cfg.L} ${y}H${cfg.L+32}M${cfg.R} ${y}H${cfg.R-32}`;});
  const tk=mk('path',{d:d},ax);
  
  
  const lg=mk('g',{'font-size':50,fill:'#000'},g);
  
  
  cfg.xl.forEach((t,i)=>{const e=mk('text',{x:X(cfg.xlv[i]),y:cfg.B+cfg.xOff,'text-anchor':'middle'},lg);e.textContent=t;
    
    });
  cfg.yl.forEach((t,i)=>{const e=mk('text',{x:cfg.L-14,y:Y(cfg.ylv[i])+18,'text-anchor':'end'},lg);e.textContent=t;
    
    });
}

panel({id:'a',L:171.5,R:910,T:21,B:695,xm:[-2,197,4,794],ym:[5,36.5,-2,673],xt:phXTicks,yt:phYTicks,xl:phXLabels,xlv:phXLabelVals,yl:phYLabels,ylv:phYTicks,xOff:72,diag:[-2,5],diagColor:'#555',
  series:[{name:'winter',type:'plus',data:aWinter},{name:'winter',type:'plus',data:aWinterCore},{name:'calnex',type:'square',data:aCalnex},{name:'tianjin',type:'diamond',data:aTianjin}]});
panel({id:'b',L:171.5,R:909,T:976,B:1646,xm:[-2,199,4,792],ym:[5,988,-2,1623],xt:phXTicks,yt:phYTicks,xl:phXLabels,xlv:phXLabelVals,yl:phYLabels,ylv:phYTicks,xOff:76,diag:[-2,5],diagColor:'#000',
  series:[{name:'winter-colored',type:'plus',data:bWinter},{name:'winter-colored',type:'plus',data:bWinterCore}]});
panel({id:'c',L:166.4,R:903.7,T:1948,B:2611,xm:[0,300.8,4,768],ym:[5,1960,-1,2597],xt:cXTicks,yt:cYTicks,xl:cXLabels,xlv:cXLabelVals,yl:cYLabels,ylv:cYTicks,xOff:67,diag:[-1,5],diagColor:'#444',
  series:[{name:'tianjin',type:'diamond',data:cTianjin},{name:'soas',type:'circle',data:cSoas},{name:'calnex',type:'square',data:cCalnex}]});
panel({id:'d',L:1237,R:1956,T:22,B:685,xm:[0,1275.5,2.5,1937],ym:[5,36,-2,667],xt:dXTicks,yt:phYTicks,xl:dXLabels,xlv:dXTicks,yl:phYLabels,ylv:phYTicks,xOff:72,
  series:[{name:'winter',type:'plus',data:dWinter},{name:'winter',type:'plus',data:dWinterCore},{name:'soas',type:'circle',data:dSoas},{name:'calnex',type:'square',data:dCalnex},{name:'tianjin',type:'diamond',data:dTianjin}]});
panel({id:'e',L:1232,R:1956,T:979,B:1646,xm:[-0.4,1272,0.2,1908],ym:[5,994,-2,1628],xt:eXTicks,yt:phYTicks,xl:eXLabels,xlv:eXLabelVals,yl:phYLabels,ylv:phYTicks,xOff:72,
  series:[{name:'winter',type:'plus',data:eWinter},{name:'tianjin',type:'diamond',data:eTianjin},{name:'calnex',type:'square',data:eCalnex},{name:'soas',type:'circle',data:eSoas}]});
panel({id:'f',L:1237,R:1976,T:1948,B:2602,xm:[0,1606.4,20,1886.7],ym:[5,1960,-2,2586],xt:fXTicks,yt:phYTicks,xl:fXLabels,xlv:fXTicks,yl:phYLabels,ylv:phYTicks,xOff:70,
  series:[{name:'winter',type:'plus',data:fWinter},{name:'soas',type:'circle',data:fSoas},{name:'calnex',type:'square',data:fCalnex},{name:'tianjin',type:'diamond',data:fTianjin}]});
</script>
</body></html>
